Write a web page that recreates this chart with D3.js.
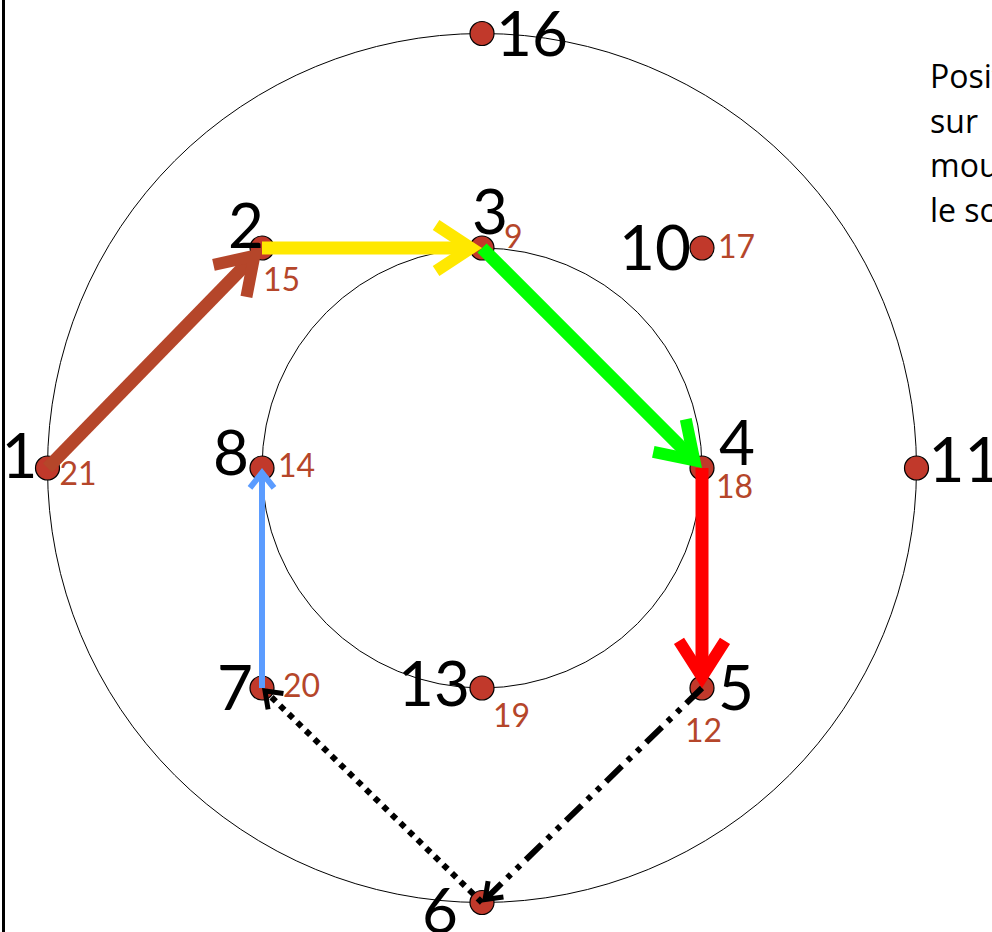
<!DOCTYPE html>
<html>
<head>
<meta charset="utf-8">
<script src="https://cdn.jsdelivr.net/npm/d3@7"></script>
<style>
  body { margin: 0; background: #fff; }
  svg { display: block; }
</style>
</head>
<body>
<div id="chart"></div>
<script>
// positions on the floor, in units of the inner circle radius
var nodeIds   = [1, 2, 3, 4, 5, 6, 7, 8, 10, 11, 13, 16];
var nodeX     = [-1.975, -1, 0, 1, 1, 0, -1, -1, 1, 1.975, 0, 0];
var nodeY     = [0, -1, -1, 0, 1, 1.975, 1, 0, -1, 0, 1, -1.975];
var stepLabel = [21, 15, 9, 18, 12, null, 20, 14, 17, null, 19, null];

var ringRadius = [1, 1.975];

var moveFrom = [1, 2, 3, 4, 5, 6, 7];
var moveTo   = [2, 3, 4, 5, 6, 7, 8];

var sideText = ["Positions", "sur", "mouvement", "le sol"];

var svgWidth = 992;
var svgHeight = 932;

var svg = d3.select("#chart")
.append("svg")
.attr("width", svgWidth)
.attr("height", svgHeight);

var xScale = d3.scaleLinear().domain([-1, 1]).range([262, 702]);
var yScale = d3.scaleLinear().domain([-1, 1]).range([248, 688]);

var nodes = nodeIds.map(function(id, i) {
    return {id: id, x: nodeX[i], y: nodeY[i], step: stepLabel[i]};
});
var byId = {};
nodes.forEach(function(d) { byId[d.id] = d; });

// frame line on the left
svg.append("line")
.attr("x1", 3.5).attr("x2", 3.5)
.attr("y1", 0).attr("y2", svgHeight)
.attr("stroke", "#000")
.attr("stroke-width", 3);

// the two circles
svg.append("g")
.selectAll("ellipse")
.data(ringRadius)
.enter()
.append("ellipse")
.attr("cx", xScale(0))
.attr("cy", yScale(0))
.attr("rx", d => xScale(d) - xScale(0))
.attr("ry", d => yScale(d) - yScale(0))
.attr("fill", "none")
.attr("stroke", "#000")
.attr("stroke-width", 1);

// dots
svg.append("g")
.selectAll("circle")
.data(nodes)
.enter()
.append("circle")
.attr("cx", d => xScale(d.x))
.attr("cy", d => yScale(d.y))
.attr("r", 12)
.attr("fill", "#C1392B")
.attr("stroke", "#000")
.attr("stroke-width", 1.2);

// arrow styles, one per move; heads are open chevrons
var styles = [
    {color: "#B5462A", width: 13, dash: null, hw: 12, L: 35, W: 23},
    {color: "#FFE800", width: 13, dash: null, hw: 12, L: 35, W: 23},
    {color: "#00FF00", width: 13, dash: null, hw: 12, L: 35, W: 23},
    {color: "#FF0000", width: 13, dash: null, hw: 12, L: 36, W: 23},
    {color: "#000000", width: 6, dash: "22,8,5,8,5,8", hw: 5, L: 15, W: 11},
    {color: "#000000", width: 6, dash: "6,6", hw: 5, L: 15, W: 11},
    {color: "#5B9CFF", width: 6, dash: null, hw: 6, L: 15, W: 12}
];

var moves = moveFrom.map(function(f, i) {
    var a = byId[f], b = byId[moveTo[i]];
    var s = styles[i];
    var x1 = xScale(a.x), y1 = yScale(a.y), x2 = xScale(b.x), y2 = yScale(b.y);
    var ang = Math.atan2(y2 - y1, x2 - x1);
    // pull the chevron vertex back so the mitred tip lands on the dot
    var back = (s.hw / 2) / Math.sin(Math.atan2(s.W, s.L));
    var vx = x2 - back * Math.cos(ang), vy = y2 - back * Math.sin(ang);
    return {x1: x1, y1: y1, vx: vx, vy: vy, ang: ang, s: s};
});

var arrowGroup = svg.append("g");

arrowGroup.selectAll("line")
.data(moves)
.enter()
.append("line")
.attr("x1", d => d.x1)
.attr("y1", d => d.y1)
.attr("x2", d => d.vx)
.attr("y2", d => d.vy)
.attr("stroke", d => d.s.color)
.attr("stroke-width", d => d.s.width)
.attr("stroke-dasharray", d => d.s.dash);

arrowGroup.selectAll("path")
.data(moves)
.enter()
.append("path")
.attr("transform", d => `translate(${d.vx},${d.vy}) rotate(${d.ang * 180 / Math.PI})`)
.attr("d", d => `M${-d.s.L},${-d.s.W}L0,0L${-d.s.L},${d.s.W}`)
.attr("fill", "none")
.attr("stroke", d => d.s.color)
.attr("stroke-width", d => d.s.hw)
.attr("stroke-linejoin", "miter")
.attr("stroke-miterlimit", 10);

// label offsets from the dot centre
var nameOffset = {
    1: [-28, 10], 2: [-16, 0], 3: [8, -14], 4: [35, -3], 5: [34, 22], 6: [-42, 30],
    7: [-27, 22], 8: [-31, 7], 10: [-47, 22], 11: [48, 14], 13: [-48, 18], 16: [50, 22]
};
var stepOffset = {
    1: [12, 17], 2: [1, 43], 3: [22, 0], 4: [14, 30], 5: [-17, 54],
    7: [21, 9], 8: [16, 9], 10: [16, 10], 13: [11, 39]
};

svg.append("g")
.selectAll("text")
.data(nodes)
.enter()
.append("text")
.attr("x", d => xScale(d.x) + nameOffset[d.id][0])
.attr("y", d => yScale(d.y) + nameOffset[d.id][1])
.attr("text-anchor", "middle")
.attr("font-family", "Lato, sans-serif")
.attr("font-size", "62px")
.attr("fill", "#000")
.text(d => d.id);

svg.append("g")
.selectAll("text")
.data(nodes.filter(d => d.step != null))
.enter()
.append("text")
.attr("x", d => xScale(d.x) + stepOffset[d.id][0])
.attr("y", d => yScale(d.y) + stepOffset[d.id][1])
.attr("font-family", "Lato, sans-serif")
.attr("font-size", "32px")
.attr("fill", "#B5462A")
.text(d => d.step);

svg.append("g")
.selectAll("text")
.data(sideText)
.enter()
.append("text")
.attr("x", 930)
.attr("y", (d, i) => 88 + i * 44.5)
.attr("font-family", "'Open Sans', sans-serif")
.attr("font-size", "32px")
.attr("fill", "#000")
.text(d => d);
</script>
</body>
</html>
